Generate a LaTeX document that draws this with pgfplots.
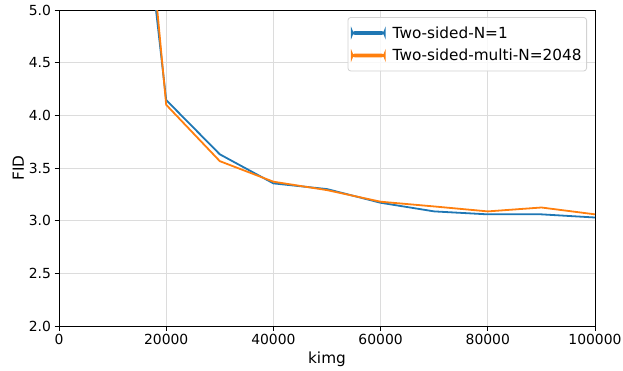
\documentclass[border=0pt]{standalone}
\usepackage{fontspec}
\setmainfont{DejaVu Sans}
\usepackage{pgfplots}
\pgfplotsset{compat=1.18}
\definecolor{tabblue}{HTML}{1F77B4}
\definecolor{taborange}{HTML}{FF7F0E}
\definecolor{gridgray}{HTML}{DCDCDC}
\pgfplotsset{
 gA/.style={grid=major, major grid style={color=gridgray, line width=0.9pt}, tick align=outside, tick pos=left, major tick length=4.5pt, axis line style={line width=0.9pt}, every tick/.style={black, line width=0.9pt}},
 gB/.style={/pgf/number format/assume math mode=true, tick label style={font=\fontsize{13.9}{16}\selectfont}, label style={font=\fontsize{15.3}{18}\selectfont}, xlabel={kimg}, ylabel={FID}, legend cell align=left},
 gC/.style={legend style={at={(1,1)}, xshift=-8pt, yshift=-7pt, anchor=north east,
    draw=gray!35, line width=0.8pt, rounded corners=3pt, fill=white, fill opacity=0.8, text opacity=1,
    inner xsep=3pt, inner ysep=7pt, row sep=5.4pt,
    font=\fontsize{15.3}{18}\selectfont,
    nodes={inner sep=2pt}}},
}
\begin{document}
\begin{tikzpicture}
\begin{axis}[
  scale only axis, width=536pt, height=316pt,
  xmin=0, xmax=100000, ymin=2, ymax=5,
  xtick={0,20000,40000,60000,80000,100000},
  ytick={2,2.5,3,3.5,4,4.5,5},
  scaled x ticks=false,
  xticklabel style={/pgf/number format/fixed, /pgf/number format/1000 sep={}},
  yticklabel style={/pgf/number format/fixed, /pgf/number format/fixed zerofill, /pgf/number format/precision=1},
  gA, gB, gC,
  ylabel style={yshift=-2pt},
]
\addplot[tabblue, line width=1.8pt,
  legend image code/.code={\fill[tabblue, fill opacity=1] (0pt,-0.9pt) rectangle (33pt,0.9pt);}] coordinates {
(10000,8.64) (20000,4.145) (30000,3.63) (40000,3.354) (50000,3.30) (60000,3.17) (70000,3.088) (80000,3.06) (90000,3.06) (100000,3.03)};
\addlegendentry{\hspace{5pt}Two-sided-N=1}
\addplot[taborange, line width=1.8pt,
  legend image code/.code={\fill[taborange, fill opacity=1] (0pt,-0.9pt) rectangle (33pt,0.9pt);}] coordinates {
(10000,9.5) (20000,4.10) (30000,3.565) (40000,3.37) (50000,3.29) (60000,3.18) (70000,3.135) (80000,3.088) (90000,3.125) (100000,3.06)};
\addlegendentry{\hspace{5pt}Two-sided-multi-N=2048\hspace{3pt}}
\end{axis}
\pgfresetboundingbox
\path (-59pt,-44pt) rectangle (564pt,326pt);
\end{tikzpicture}
\end{document}
